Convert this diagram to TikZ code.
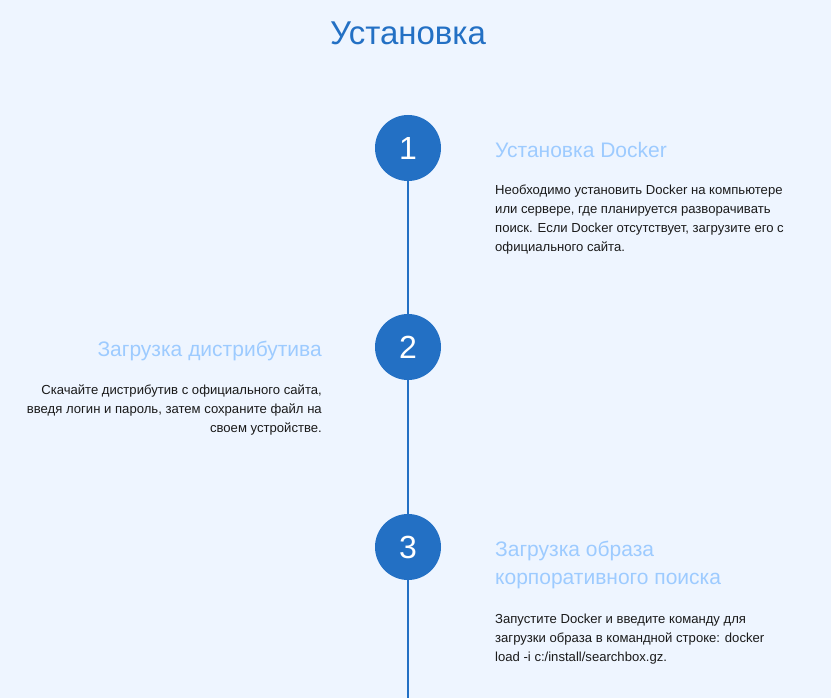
\documentclass[tikz,border=0pt]{standalone}
\usepackage{fontspec}
\setmainfont{Liberation Sans}
\definecolor{bg}{HTML}{EEF5FF}
\definecolor{mainblue}{HTML}{2370C4}
\definecolor{headblue}{HTML}{9DCBFF}
\definecolor{bodytext}{HTML}{1A1A1A}
\begin{document}
\begin{tikzpicture}[x=1pt,y=-1pt,
  stepcircle/.style={circle,fill=mainblue,minimum size=66pt,inner sep=0pt,text=white,font=\fontsize{32}{32}\selectfont},
  headtext/.style={inner sep=0pt,text=headblue,font=\fontsize{21}{28}\selectfont},
  bodyblock/.style={inner sep=0pt,text=bodytext,font=\fontsize{13.1}{19}\selectfont},
  timeline/.style={draw=mainblue,line width=2pt}]
\fill[bg] (0,0) rectangle (831,698);
\useasboundingbox (0,0) rectangle (831,698);
\node[inner sep=0pt,text=mainblue,font=\fontsize{33}{33}\selectfont] (title) at (408,33) {Установка};
\coordinate (bottom) at (408,698);
\node[stepcircle] (c1) at (408,148) {1};
\node[stepcircle] (c2) at (408,347) {2};
\node[stepcircle] (c3) at (408,547) {3};
\draw[timeline] (c1) -- (c2);
\draw[timeline] (c2) -- (c3);
\draw[timeline] (c3) -- (bottom);
\node[headtext,anchor=west] (h1) at (495,150) {Установка Docker};
\node[bodyblock,anchor=north west,align=left] (b1) at (495,185) {Необходимо установить Docker на компьютере\\или сервере, где планируется разворачивать\\поиск. Если Docker отсутствует, загрузите его с\\официального сайта.};
\node[headtext,anchor=east] (h2) at (322,351) {Загрузка дистрибутива};
\node[bodyblock,anchor=north east,align=right] (b2) at (322,385) {Скачайте дистрибутив с официального сайта,\\введя логин и пароль, затем сохраните файл на\\своем устройстве.};
\node[headtext,anchor=north west,align=left] (h3) at (495,541) {Загрузка образа\\корпоративного поиска};
\node[bodyblock,anchor=north west,align=left] (b3) at (495,614) {Запустите Docker и введите команду для\\загрузки образа в командной строке: docker\\load -i c:/install/searchbox.gz.};
\end{tikzpicture}
\end{document}
